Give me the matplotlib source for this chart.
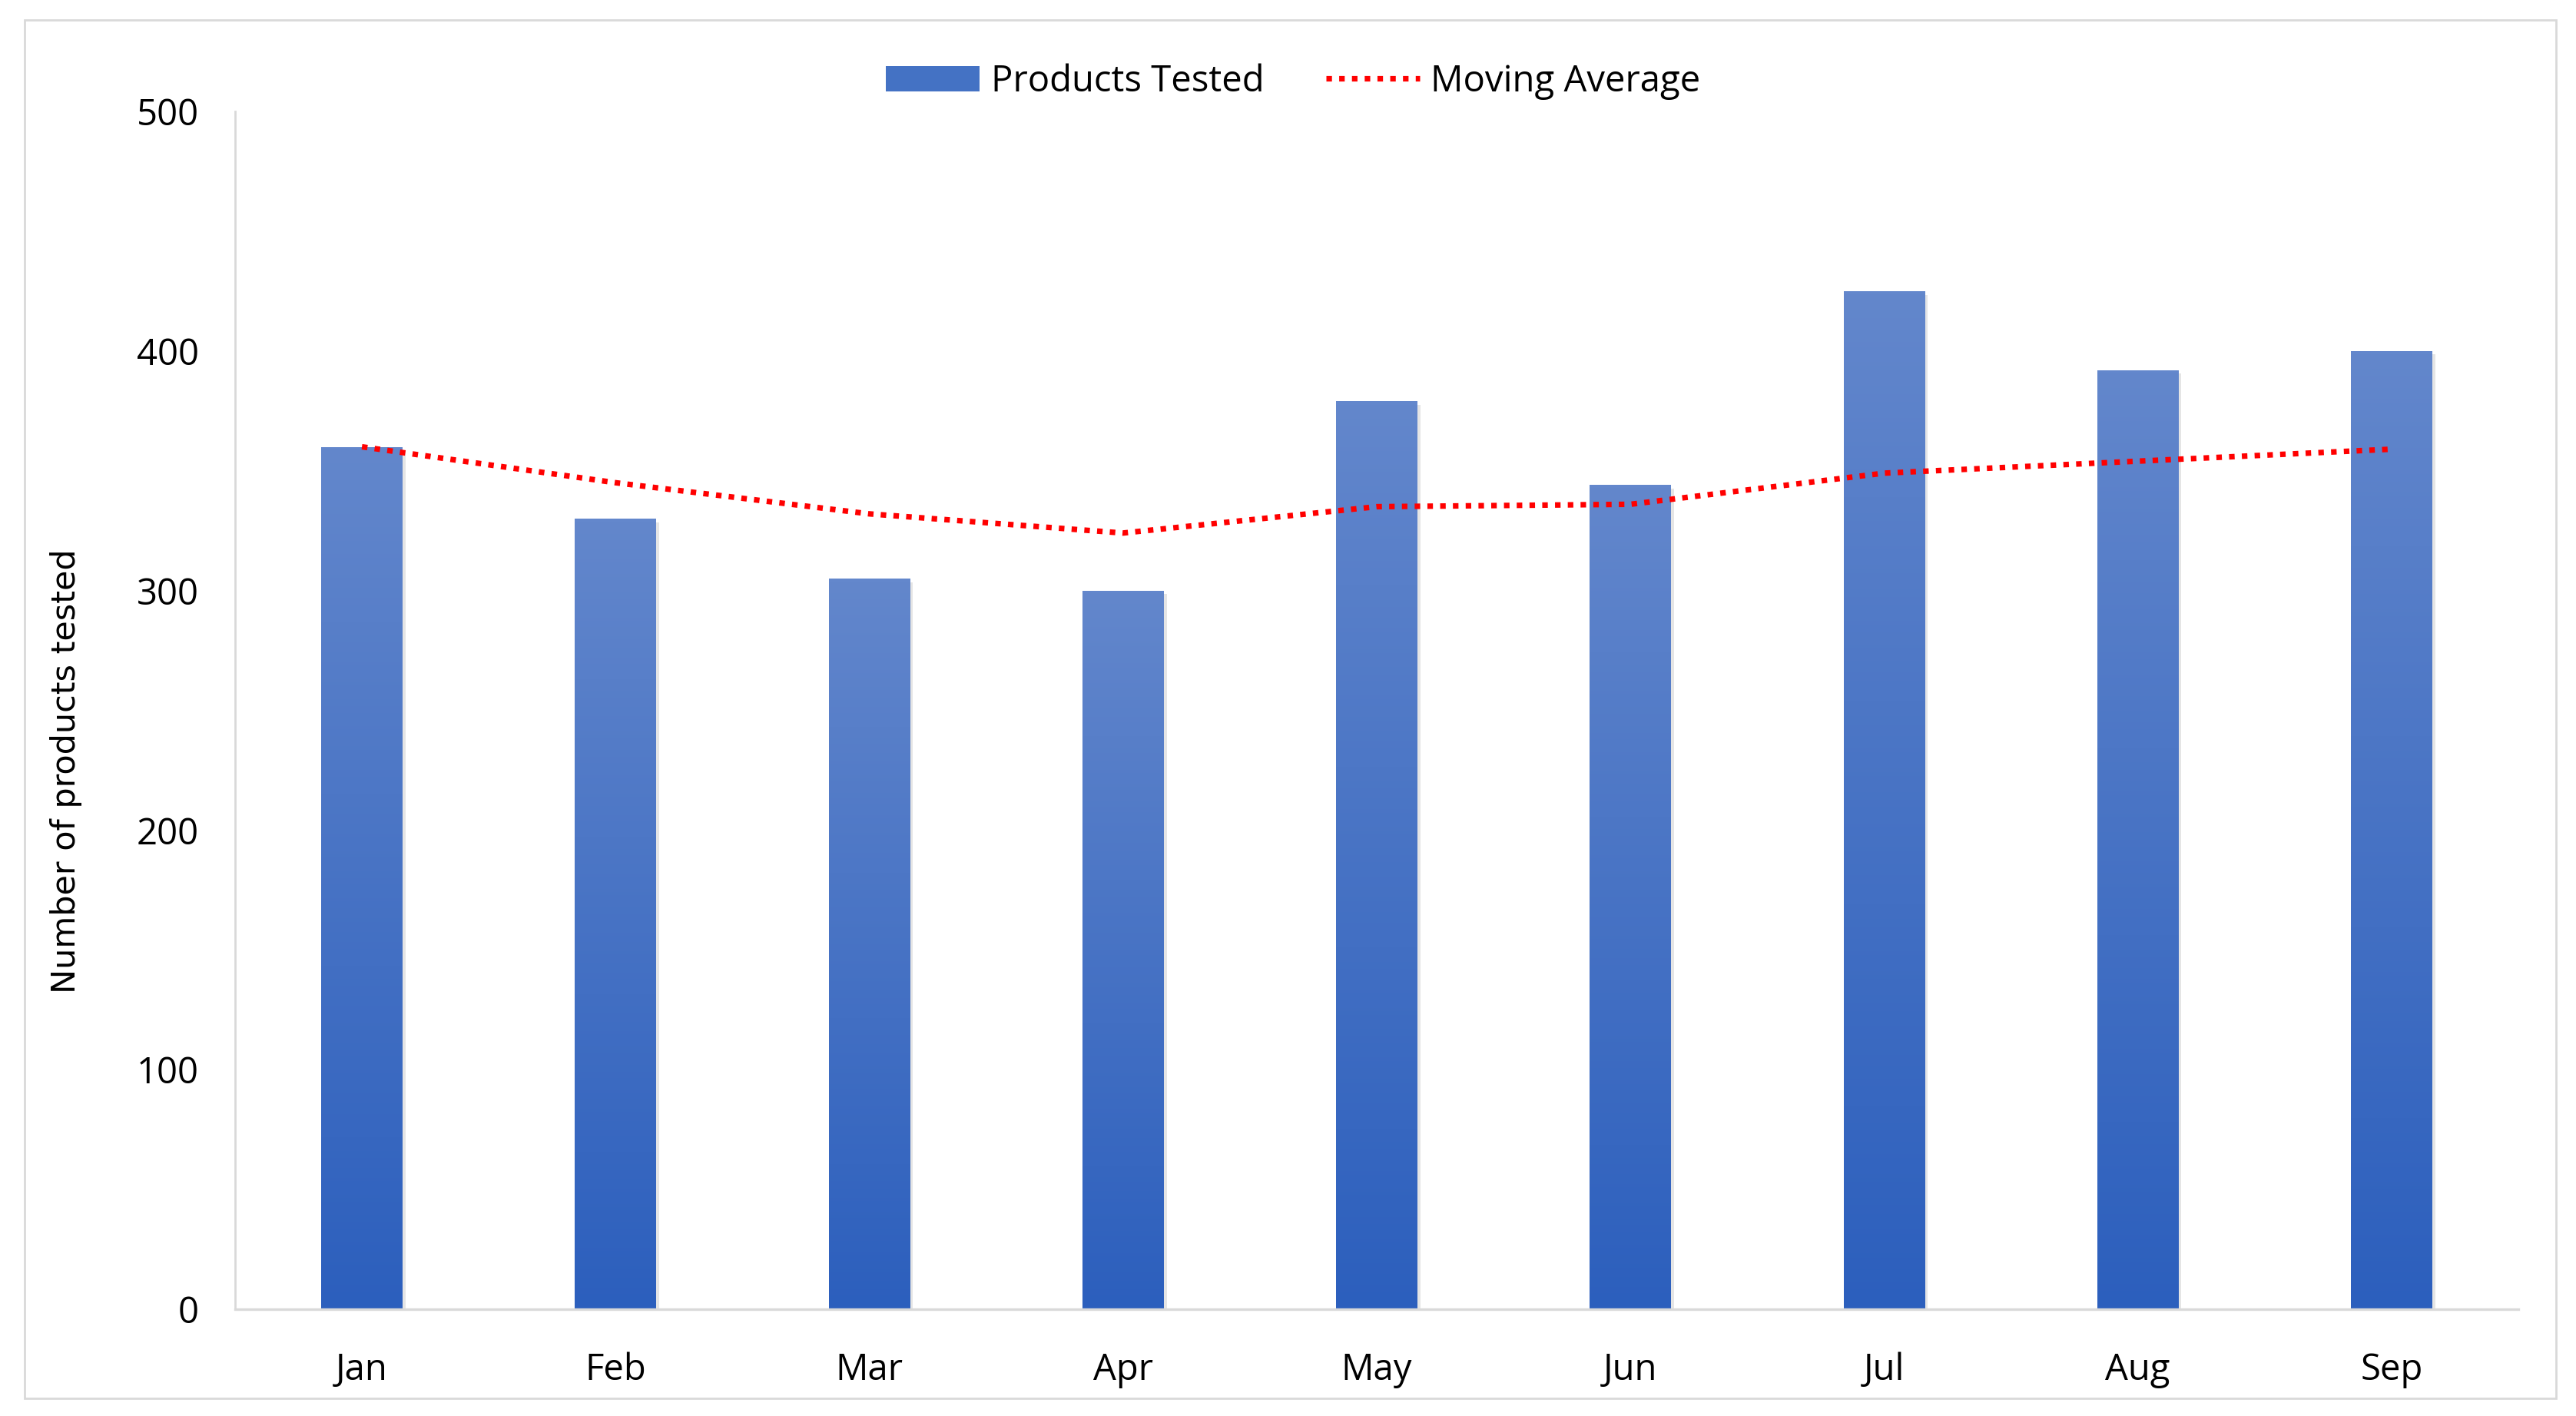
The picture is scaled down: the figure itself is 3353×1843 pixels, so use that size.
import numpy as np
import matplotlib.pyplot as plt
import matplotlib.colors as mcolors
import matplotlib.patches as mpatches
from matplotlib.lines import Line2D

# data
months = ['Jan', 'Feb', 'Mar', 'Apr', 'May', 'Jun', 'Jul', 'Aug', 'Sep']
tested = [360, 330, 305, 300, 379, 344, 425, 392, 400]
moving_avg = [360, 345, 332, 324, 335, 336, 349, 354, 359]

plt.rcParams['font.family'] = ['Open Sans', 'DejaVu Sans']

W, H, dpi = 3353, 1843, 200
fig = plt.figure(figsize=(W / dpi, H / dpi), dpi=dpi)
ax = fig.add_axes([306 / W, 1 - 1704 / H, (3278 - 306) / W, (1704 - 145) / H])

x = np.arange(len(months))
bars = ax.bar(x, tested, width=0.32, color='none', edgecolor='none', zorder=2)

# vertical gradient inside every bar
cmap = mcolors.LinearSegmentedColormap.from_list('grad', ['#2c5fbd', '#6387cc'])
grad = np.linspace(0, 1, 256).reshape(-1, 1)
for b in bars:
    x0, w, h = b.get_x(), b.get_width(), b.get_height()
    # faint shadow
    sh = mpatches.Rectangle((x0 + 0.012, 0), w, h - 1.5, facecolor='#000000',
                            alpha=0.10, edgecolor='none', zorder=1)
    ax.add_patch(sh)
    im = ax.imshow(grad, extent=(x0, x0 + w, 0, h), origin='lower', cmap=cmap,
                   aspect='auto', zorder=2)
    im.set_clip_path(b)

ax.plot(x, moving_avg, color='#ff0000', linestyle=(0, (1, 1.3)), linewidth=2.6,
        zorder=3)

ax.set_xlim(-0.5, len(months) - 0.5)
ax.set_ylim(0, 500)
ax.set_yticks(range(0, 501, 100))
ax.set_xticks(x)
ax.set_xticklabels(months)
ax.tick_params(axis='both', length=0, labelsize=17, colors='#000000')
ax.tick_params(axis='x', pad=20)
ax.tick_params(axis='y', pad=17)

for s in ['top', 'right']:
    ax.spines[s].set_visible(False)
ax.spines['left'].set_color('#d9d9d9')
ax.spines['bottom'].set_color('#d9d9d9')
ax.spines['left'].set_linewidth(1.0)
ax.spines['bottom'].set_linewidth(1.2)

ax.set_ylabel('Number of products tested', fontsize=15.5, family='DejaVu Sans')
ax.yaxis.set_label_coords(-0.067, 0.449)

handles = [mpatches.Patch(facecolor='#4472c4', edgecolor='none'),
           Line2D([0], [0], color='#ff0000', linestyle=(0, (1, 1.3)), linewidth=2.6)]
fig.legend(handles, ['Products Tested', 'Moving Average'], loc='center',
           bbox_to_anchor=(0.502, 1 - 106 / H), ncol=2, frameon=False,
           fontsize=17, handlelength=2.6, columnspacing=1.7, handletextpad=0.3)

# light frame around the chart
fig.patches.append(mpatches.Rectangle((32 / W, 1 - 1820 / H), (3327 - 32) / W,
                                      (1820 - 26) / H, transform=fig.transFigure,
                                      fill=False, edgecolor='#d9d9d9', linewidth=1.0))

fig.savefig('out.png', dpi=dpi, facecolor='white')
